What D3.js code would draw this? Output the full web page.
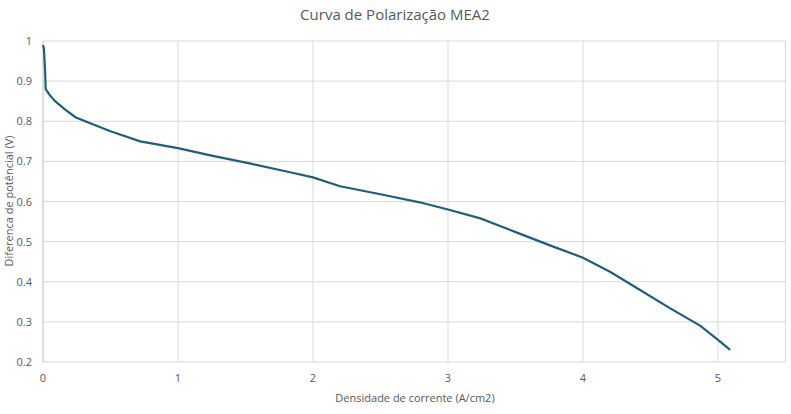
<!DOCTYPE html><html><head><meta charset="utf-8"><script src="https://d3js.org/d3.v7.min.js"></script>
<style>body{margin:0;background:#fff}text{font-family:"Open Sans",sans-serif}</style></head><body>
<svg id="c" width="791" height="414"></svg>
<script>
const currentDensity=[0,0.007,0.015,0.02,0.05,0.09,0.16,0.24,0.35,0.5,0.72,1,1.24,1.53,1.83,2,2.2,2.5,2.79,3,3.24,3.53,3.76,4,4.2,4.42,4.64,4.87,5.0,5.09];
const voltage=[0.99,0.98,0.93,0.88,0.865,0.85,0.83,0.81,0.795,0.775,0.75,0.733,0.715,0.695,0.673,0.66,0.638,0.618,0.598,0.58,0.558,0.52,0.49,0.46,0.425,0.38,0.335,0.29,0.255,0.23];
const xTicks=[0,1,2,3,4,5];
const yTicks=[0.2,0.3,0.4,0.5,0.6,0.7,0.8,0.9,1];
const svg=d3.select("#c");
const x=d3.scaleLinear().domain([0,5.5]).range([43,785.5]);
const y=d3.scaleLinear().domain([0.2,1]).range([362,41]);
const g=svg.append("g");
g.selectAll(".gx").data(xTicks.slice(1)).join("line").attr("x1",d=>x(d)).attr("x2",d=>x(d)).attr("y1",41).attr("y2",362).attr("stroke","#d9d9d9");
g.append("line").attr("x1",x(5.5)).attr("x2",x(5.5)).attr("y1",41).attr("y2",362).attr("stroke","#d9d9d9");
g.selectAll(".gy").data(yTicks).join("line").attr("x1",43).attr("x2",785.5).attr("y1",d=>y(d)).attr("y2",d=>y(d)).attr("stroke","#d9d9d9");
g.append("line").attr("x1",43).attr("x2",43).attr("y1",41).attr("y2",362).attr("stroke","#bfbfbf");
g.selectAll(".tx").data(xTicks).join("text").attr("x",d=>x(d)).attr("y",382).attr("text-anchor","middle").attr("font-size",11).attr("fill","#595959").text(d=>d);
g.selectAll(".ty").data(yTicks).join("text").attr("x",32).attr("y",d=>y(d)+4).attr("text-anchor","end").attr("font-size",11).attr("fill","#595959").text(d=>d);
svg.append("path").datum(currentDensity.map((d,i)=>[d,voltage[i]])).attr("fill","none").attr("stroke","#1f5f7a").attr("stroke-width",2.2)
 .attr("d",d3.line().x(d=>x(d[0])).y(d=>y(d[1])));
svg.append("text").attr("x",395).attr("y",20).attr("text-anchor","middle").attr("font-size",15).attr("fill","#595959").text("Curva de Polarização MEA2");
svg.append("text").attr("x",415).attr("y",402).attr("text-anchor","middle").attr("font-size",11).attr("fill","#595959").text("Densidade de corrente (A/cm2)");
svg.append("text").attr("transform","translate(13,201) rotate(-90)").attr("text-anchor","middle").attr("font-size",11).attr("fill","#595959").text("Diferenca de potêncial (V)");
</script></body></html>
